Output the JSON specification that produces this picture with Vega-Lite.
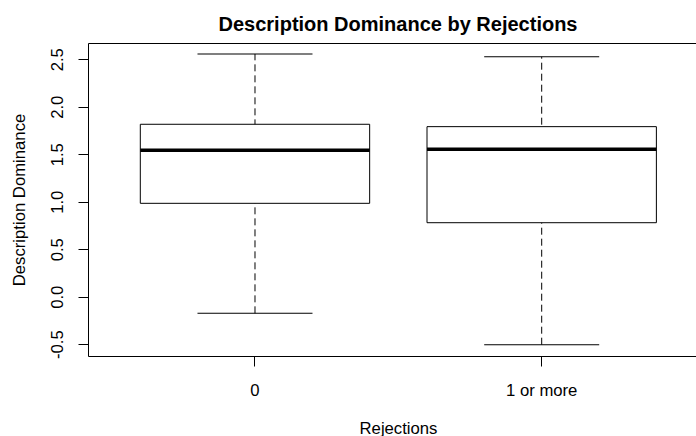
{
  "$schema": "https://vega.github.io/schema/vega-lite/v6.json",
  "width": 608,
  "height": 313,
  "autosize": {"type": "none"},
  "padding": {"left": 88, "top": 43, "right": 0, "bottom": 80},
  "background": "white",
  "title": {
    "text": "Description Dominance by Rejections",
    "font": "Liberation Sans",
    "fontSize": 20,
    "fontWeight": "bold",
    "color": "black",
    "anchor": "middle",
    "frame": "group",
    "dx": 6,
    "offset": -8,
    "baseline": "alphabetic"
  },
  "data": {
    "values": [
      {"group": "0", "lower": -0.175, "q1": 0.983, "median": 1.541, "q3": 1.815, "upper": 2.555},
      {"group": "1 or more", "lower": -0.505, "q1": 0.779, "median": 1.552, "q3": 1.79, "upper": 2.526}
    ]
  },
  "layer": [
    {
      "mark": {"type": "rule", "color": "black", "strokeWidth": 1, "strokeDash": [7, 4]},
      "encoding": {
        "x": {
          "field": "group", "type": "nominal", "sort": ["0", "1 or more"],
          "scale": {"paddingInner": 0.2, "paddingOuter": 0.1603, "align": 0.569},
          "axis": {
            "orient": "bottom", "title": "Rejections", "labelAngle": 0,
            "tickSize": 10, "labelPadding": 29, "labelBaseline": "alphabetic",
            "titleX": 310, "titleY": 77.5, "titleBaseline": "alphabetic", "titleAlign": "center"
          }
        },
        "y": {
          "field": "lower", "type": "quantitative", "title": "Description Dominance",
          "scale": {"domain": [-0.624, 2.6705], "nice": false, "zero": false},
          "axis": {
            "values": [-0.5, 0, 0.5, 1, 1.5, 2, 2.5],
            "labelExpr": "replace(format(datum.value, '.1f'), '\u2212', '-')",
            "labelAngle": 270, "labelAlign": "center", "labelBaseline": "alphabetic",
            "tickSize": 10, "labelPadding": 15.3, "labelFlush": false, "labelOverlap": false,
            "titleAngle": 270, "titleX": -64, "titleY": 156.5, "titleAlign": "center", "titleBaseline": "alphabetic"
          }
        },
        "y2": {"field": "upper"}
      }
    },
    {
      "mark": {"type": "bar", "fill": "white", "stroke": "black", "strokeWidth": 1, "width": {"band": 1}},
      "encoding": {
        "x": {"field": "group", "type": "nominal", "sort": ["0", "1 or more"], "scale": {"paddingInner": 0.2, "paddingOuter": 0.1603, "align": 0.569}, "axis": null},
        "y": {"field": "q1", "type": "quantitative", "title": "Description Dominance"},
        "y2": {"field": "q3"}
      }
    },
    {
      "mark": {"type": "tick", "color": "black", "opacity": 1, "thickness": 3.5, "size": 229.4},
      "encoding": {
        "x": {
          "field": "group", "type": "nominal", "sort": ["0", "1 or more"],
          "scale": {"paddingInner": 0.2, "paddingOuter": 0.1603, "align": 0.569},
          "axis": {"orient": "top", "labels": false, "ticks": false, "title": null, "domain": true}
        },
        "y": {"field": "median", "type": "quantitative", "title": "Description Dominance"}
      }
    },
    {
      "mark": {"type": "tick", "color": "black", "opacity": 1, "thickness": 1, "size": 115},
      "encoding": {
        "x": {"field": "group", "type": "nominal", "sort": ["0", "1 or more"], "scale": {"paddingInner": 0.2, "paddingOuter": 0.1603, "align": 0.569}, "axis": null},
        "y": {"field": "lower", "type": "quantitative", "title": "Description Dominance"}
      }
    },
    {
      "mark": {"type": "tick", "color": "black", "opacity": 1, "thickness": 1, "size": 115},
      "encoding": {
        "x": {"field": "group", "type": "nominal", "sort": ["0", "1 or more"], "scale": {"paddingInner": 0.2, "paddingOuter": 0.1603, "align": 0.569}, "axis": null},
        "y": {"field": "upper", "type": "quantitative", "title": "Description Dominance"}
      }
    }
  ],
  "resolve": {"axis": {"x": "independent"}},
  "config": {
    "view": {"stroke": null},
    "axis": {
      "grid": false,
      "labelFont": "Liberation Sans", "titleFont": "Liberation Sans",
      "labelFontSize": 16.7, "titleFontSize": 16.7, "titleFontWeight": "normal",
      "labelColor": "black", "titleColor": "black",
      "tickColor": "black", "domainColor": "black",
      "tickWidth": 1, "domainWidth": 1
    }
  }
}
